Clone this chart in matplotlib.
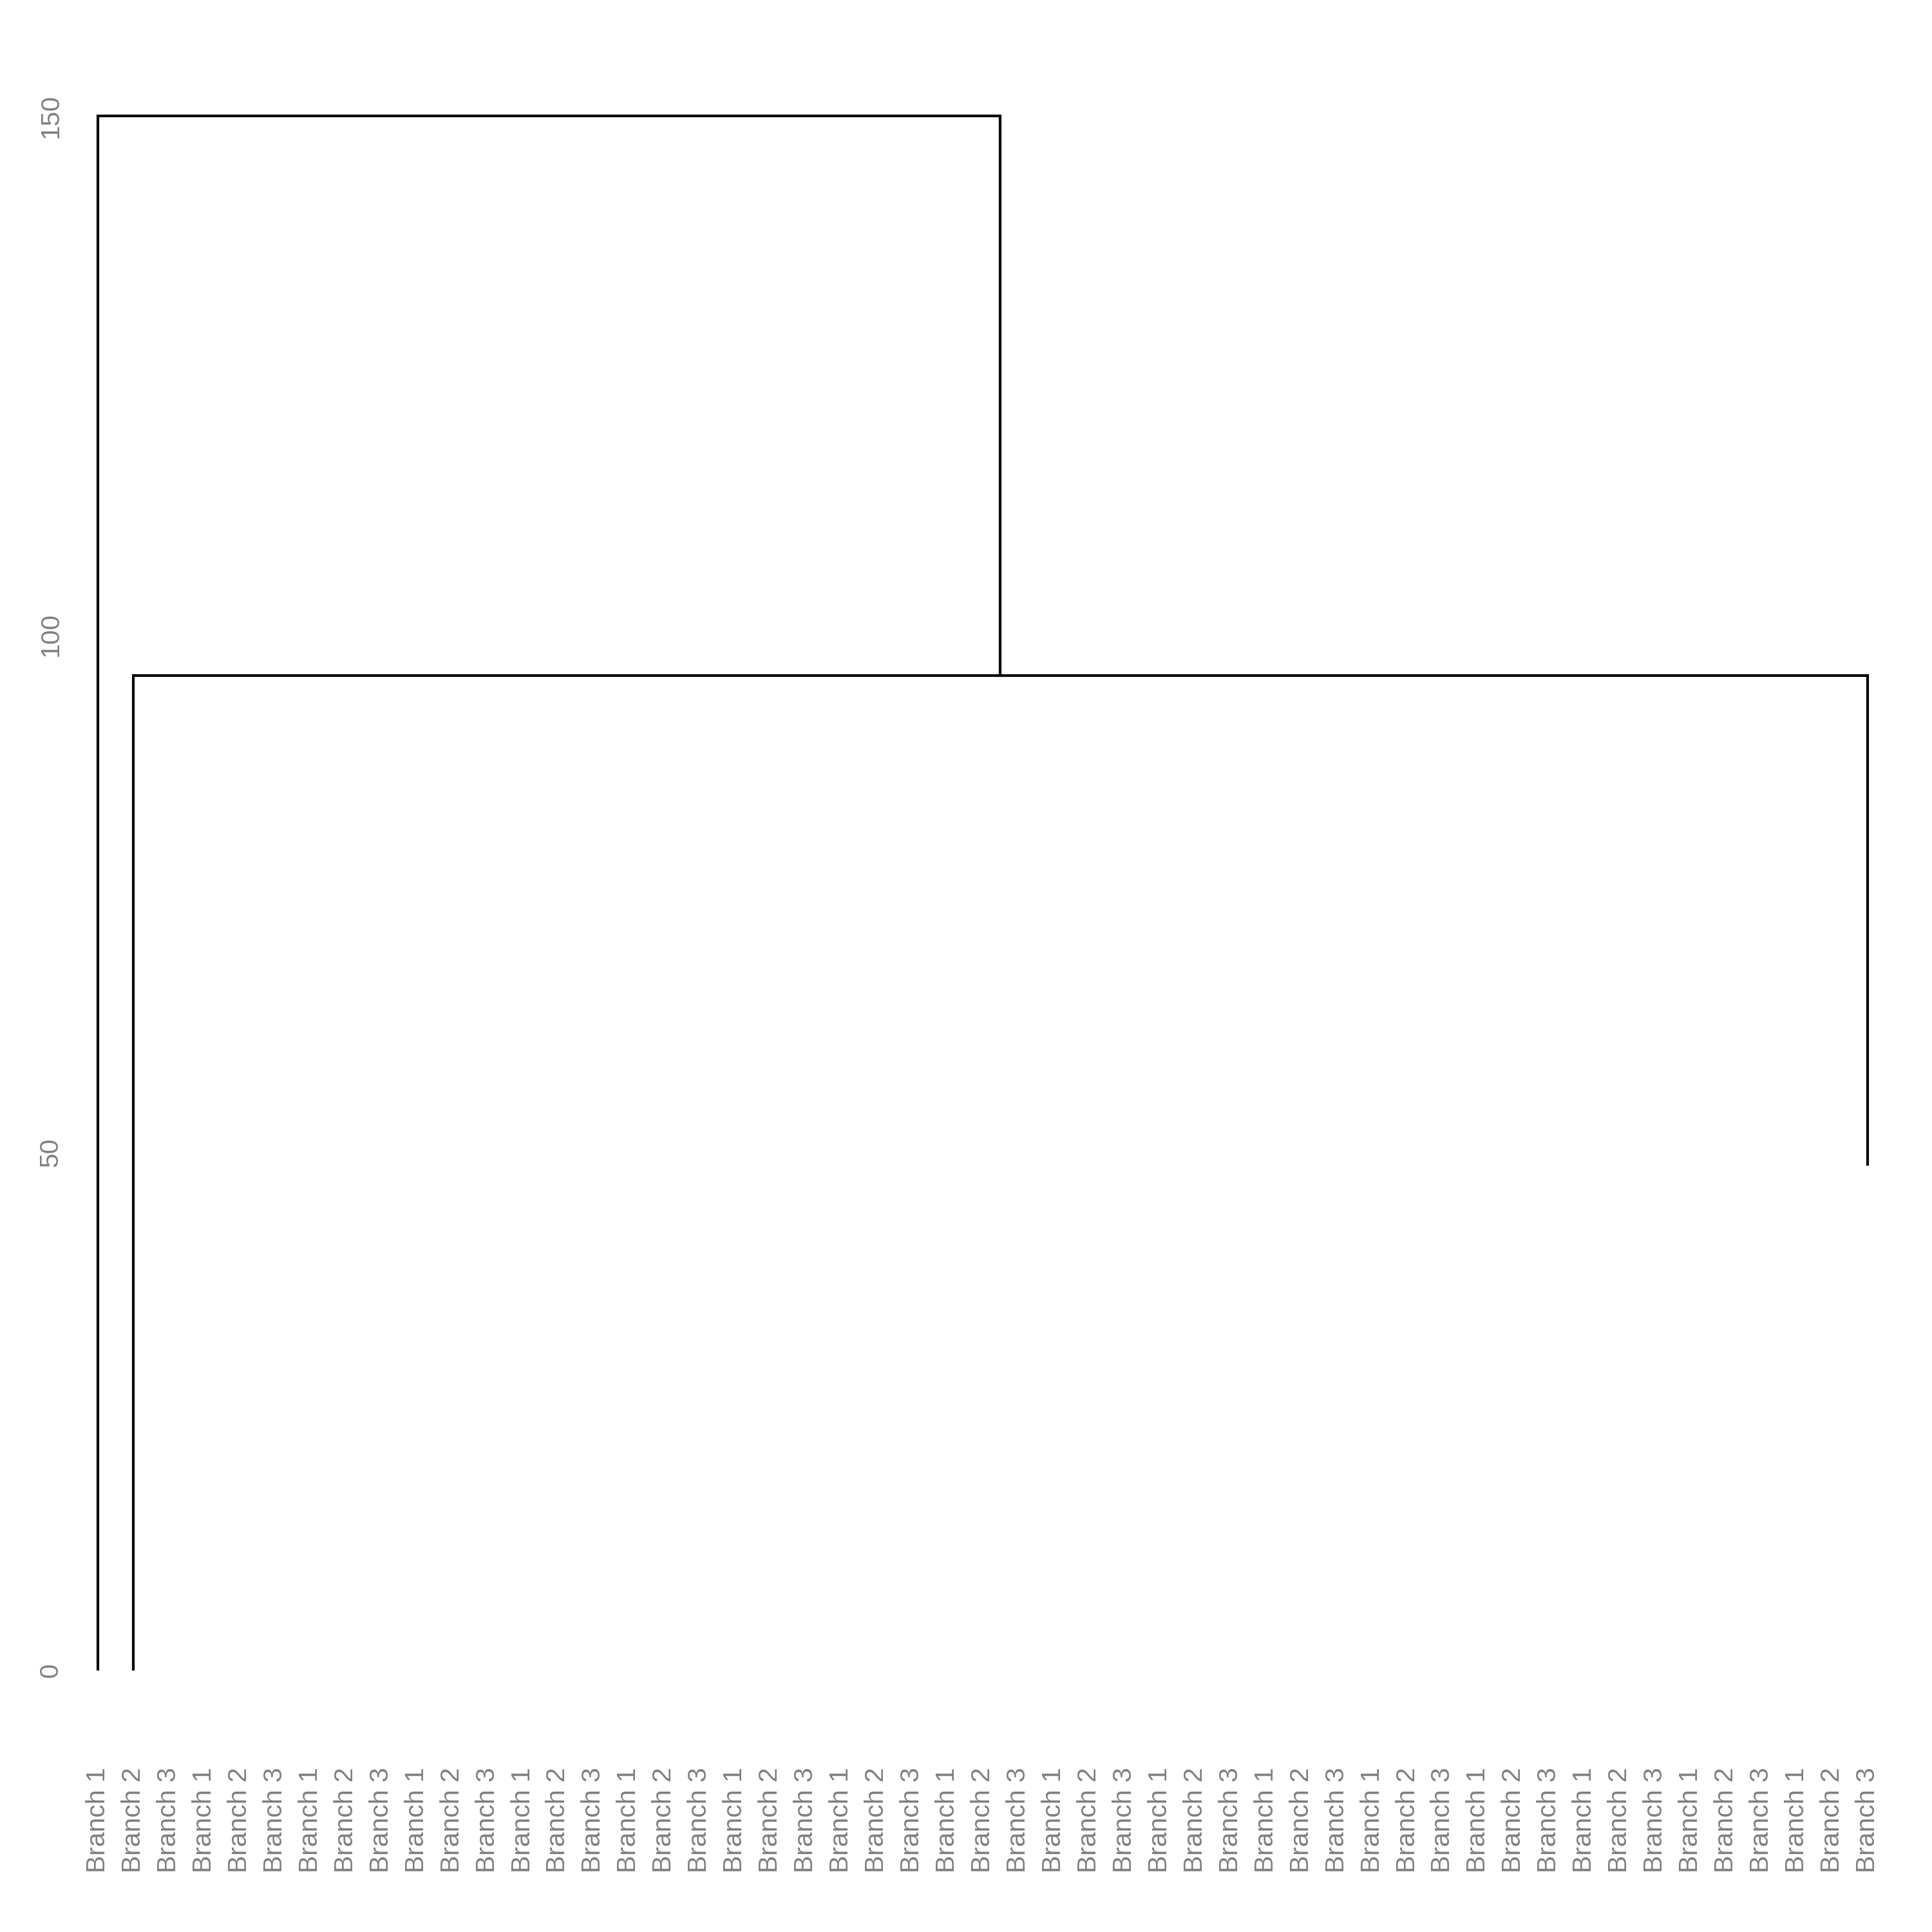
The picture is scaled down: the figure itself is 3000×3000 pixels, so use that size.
import matplotlib
matplotlib.use("Agg")
import matplotlib.pyplot as plt

# leaf labels along the bottom
leaf_labels = ["Branch 1", "Branch 2", "Branch 3"] * 17

# merges: (left child, right child, merge height); children are leaf indexes (0-based)
# or ("node", k) for an earlier merge
leaf_base = {0: 0.0, 1: 0.0, 50: 48.7}
merges = [
    (1, 50, 96.0),
    (0, ("node", 0), 150.0),
]

y_ticks = [0, 50, 100, 150]

text_color = "#808080"
plt.rcParams["font.family"] = ["Liberation Sans", "DejaVu Sans"]

fig = plt.figure(figsize=(10, 10), dpi=300)
W, H = 3000, 3000
left, right, top, bottom = 152, 2900, 180, 2594
ax = fig.add_axes([left / W, 1 - bottom / H, (right - left) / W, (bottom - top) / H])

node_x = []
node_h = []


def child_pos(c):
    if isinstance(c, tuple):
        return node_x[c[1]], node_h[c[1]]
    return c + 1, leaf_base[c]


for a, b, h in merges:
    xa, ha = child_pos(a)
    xb, hb = child_pos(b)
    ax.plot([xa, xa, xb, xb], [ha, h, h, hb], color="black", lw=1.0,
            solid_joinstyle="miter", solid_capstyle="butt", clip_on=False)
    node_x.append((xa + xb) / 2)
    node_h.append(h)

ax.set_xlim(1, len(leaf_labels))
ax.set_ylim(0, 150)

ax.set_xticks(range(1, len(leaf_labels) + 1))
ax.set_xticklabels(leaf_labels, rotation=90, fontsize=9.8, color=text_color)
ax.set_yticks(y_ticks)
ax.set_yticklabels([str(v) for v in y_ticks], rotation=90, va="center",
                   fontsize=9.8, color=text_color)
ax.tick_params(axis="x", length=0, pad=36)
ax.tick_params(axis="y", length=0, pad=13)
for s in ax.spines.values():
    s.set_visible(False)

fig.savefig("out.png", dpi=300, facecolor="white")
